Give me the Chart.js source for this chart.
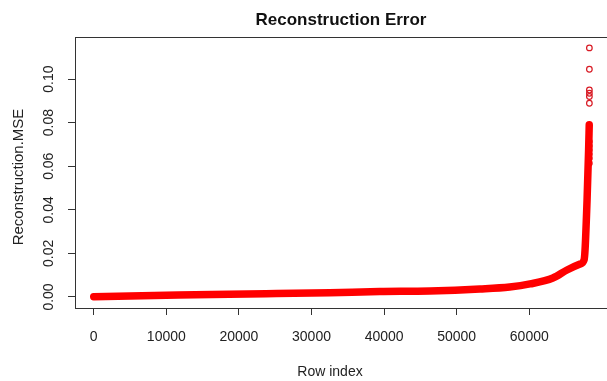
<!DOCTYPE html>
<html>
<head>
<meta charset="utf-8">
<title>Reconstruction Error</title>
<script src="https://cdn.jsdelivr.net/npm/chart.js@4/dist/chart.umd.min.js"></script>
<style>
  html, body { margin: 0; padding: 0; background: #fff; overflow: hidden; }
  #wrap { width: 620px; height: 381px; }
</style>
</head>
<body>
<div id="wrap"><canvas id="errChart" width="620" height="381"></canvas></div>
<script>
// sorted reconstruction MSE per row
const rowIndex = [0, 5000, 13950, 23700, 32500, 39400, 46300, 53200, 57300, 60100, 63250, 65200, 67000, 67550, 67680, 67960, 68170, 68260];
const reconMSE = [0.0001, 0.0005, 0.0010, 0.0015, 0.0020, 0.0025, 0.0028, 0.0037, 0.0046, 0.0060, 0.0087, 0.0124, 0.0151, 0.0170, 0.0215, 0.0445, 0.0670, 0.0790];

// separate hollow circles at the top of the tail
const tailIndex = [68275, 68275, 68275, 68275, 68275, 68275];
const tailMSE = [0.0713, 0.0693, 0.0675, 0.0656, 0.0637, 0.0614];

// the few largest errors
const outlierIndex = [68280, 68280, 68280, 68280, 68280, 68280];
const outlierMSE = [0.1143, 0.1045, 0.0950, 0.0935, 0.0920, 0.0889];

const xTicks = [0, 10000, 20000, 30000, 40000, 50000, 60000];
const yTicks = [0, 0.02, 0.04, 0.06, 0.08, 0.10];
const yTickLabels = ["0.00", "0.02", "0.04", "0.06", "0.08", "0.10"];

const titleText = "Reconstruction Error";
const xTitle = "Row index";
const yTitle = "Reconstruction.MSE";

const FONT = '"Liberation Sans", Arial, Helvetica, sans-serif';

// R style box, rotated y labels and titles
const rPlotDecor = {
  id: "rPlotDecor",
  afterDraw(chart) {
    const { ctx, chartArea: a, scales } = chart;
    ctx.save();
    ctx.strokeStyle = "#333";
    ctx.lineWidth = 1;
    ctx.strokeRect(a.left + 0.5, a.top + 0.5, a.right - a.left, a.bottom - a.top);

    ctx.fillStyle = "#222";
    ctx.textAlign = "center";
    ctx.textBaseline = "middle";
    ctx.font = "14px " + FONT;
    yTicks.forEach((v, i) => {
      const y = scales.y.getPixelForValue(v);
      ctx.save();
      ctx.translate(49, y);
      ctx.rotate(-Math.PI / 2);
      ctx.fillText(yTickLabels[i], 0, 0);
      ctx.restore();
    });

    ctx.font = "15px " + FONT;
    ctx.save();
    ctx.translate(19, 177);
    ctx.rotate(-Math.PI / 2);
    ctx.fillText(yTitle, 0, 0);
    ctx.restore();

    ctx.font = "14px " + FONT;
    ctx.textBaseline = "alphabetic";
    ctx.fillText(xTitle, 330, 376);

    ctx.font = "bold 17px " + FONT;
    ctx.fillStyle = "#111";
    ctx.fillText(titleText, 341, 25);
    ctx.restore();
  }
};

const ctx = document.getElementById("errChart").getContext("2d");
new Chart(ctx, {
  type: "line",
  data: {
    datasets: [
      {
        label: "MSE",
        data: rowIndex.map((x, i) => ({ x: x, y: reconMSE[i] })),
        borderColor: "#ff0000",
        borderWidth: 7.5,
        borderCapStyle: "round",
        borderJoinStyle: "round",
        cubicInterpolationMode: "monotone",
        pointRadius: 0,
        fill: false
      },
      {
        label: "tail",
        data: tailIndex.map((x, i) => ({ x: x, y: tailMSE[i] })),
        showLine: false,
        pointRadius: 2.8,
        pointBorderWidth: 1.2,
        pointBorderColor: "#e8141c",
        pointBackgroundColor: "rgba(255,255,255,0)"
      },
      {
        label: "outliers",
        data: outlierIndex.map((x, i) => ({ x: x, y: outlierMSE[i] })),
        showLine: false,
        pointRadius: 2.8,
        pointBorderWidth: 1.2,
        pointBorderColor: "#d81a24",
        pointBackgroundColor: "rgba(255,255,255,0)"
      }
    ]
  },
  options: {
    responsive: false,
    animation: false,
    devicePixelRatio: 1,
    layout: { padding: { top: 37, right: 10, left: 0, bottom: 0 } },
    plugins: {
      legend: { display: false },
      title: { display: false },
      tooltip: { enabled: false }
    },
    scales: {
      x: {
        type: "linear",
        min: -2580,
        max: 71120,
        afterBuildTicks: (scale) => { scale.ticks = xTicks.map(v => ({ value: v })); },
        afterFit: (scale) => { scale.height = 73; },
        border: { display: false },
        grid: { drawOnChartArea: false, drawTicks: true, tickLength: 7, color: "#333" },
        ticks: {
          color: "#222",
          font: { family: FONT, size: 14 },
          padding: 14,
          maxRotation: 0,
          callback: (v) => String(v)
        }
      },
      y: {
        type: "linear",
        min: -0.00505,
        max: 0.1193,
        afterBuildTicks: (scale) => { scale.ticks = yTicks.map(v => ({ value: v })); },
        afterFit: (scale) => { scale.width = 75; },
        border: { display: false },
        grid: { drawOnChartArea: false, drawTicks: true, tickLength: 7, color: "#333" },
        ticks: { display: false }
      }
    }
  },
  plugins: [rPlotDecor]
});
</script>
</body>
</html>
